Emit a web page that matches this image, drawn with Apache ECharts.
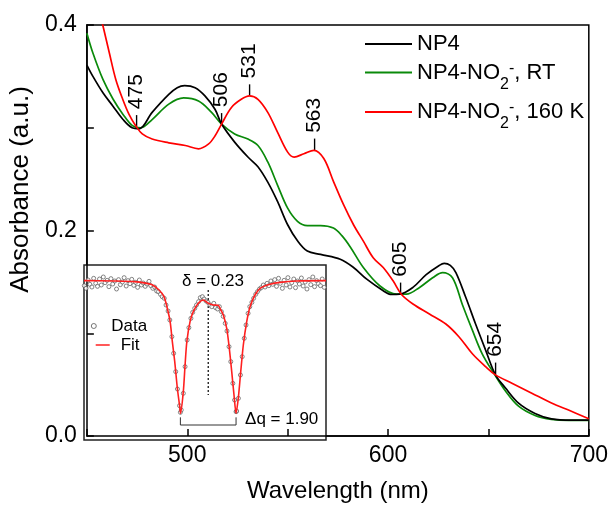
<!DOCTYPE html>
<html><head><meta charset="utf-8">
<script src="https://cdn.jsdelivr.net/npm/echarts@6/dist/echarts.min.js"></script>
<style>html,body{margin:0;padding:0;background:#fff}#c{width:611px;height:508px}</style>
</head><body><div id="c"></div>
<script>
const FONT = '"Liberation Sans", Arial, Helvetica, sans-serif';

// ---- main spectra: [wavelength (nm), absorbance] ----
const np4 = [[450,0.361],[453,0.350],[458,0.334],[463,0.321],[468,0.308],[472.5,0.300],[476,0.299],[482.5,0.315],[490.8,0.3325],[495,0.339],[498.7,0.341],[503.9,0.339],[508.8,0.331],[513.8,0.318],[517.1,0.3036],[523.6,0.286],[530.2,0.2715],[535.2,0.262],[540.1,0.247],[545,0.228],[550,0.2056],[554.9,0.190],[559.8,0.180],[566.4,0.1767],[576.2,0.172],[582.8,0.164],[589.4,0.1526],[597.6,0.1414],[601.7,0.1377],[605.8,0.138],[612.4,0.1446],[619,0.157],[625.5,0.166],[628,0.168],[631,0.166],[633.8,0.159],[638.7,0.135],[643.6,0.109],[648.6,0.0836],[653.5,0.0595],[658.4,0.047],[665,0.032],[673.2,0.022],[681.4,0.0167],[691.3,0.0154],[700,0.0154]];
const np4NO2RT = [[450,0.392],[453,0.3727],[458,0.347],[463,0.328],[468,0.313],[472.7,0.302],[476.8,0.300],[482.5,0.308],[490.8,0.323],[498.2,0.329],[505.6,0.326],[512.1,0.315],[517.1,0.3036],[523.6,0.294],[530.2,0.289],[535.2,0.2827],[540.1,0.2667],[545,0.244],[550,0.2217],[554.9,0.2089],[559.8,0.2048],[566.4,0.2048],[572.8,0.2024],[577,0.195],[581.2,0.184],[587.7,0.164],[596,0.146],[604.2,0.138],[609.1,0.138],[615.7,0.1446],[622.2,0.154],[627.2,0.159],[632.1,0.154],[637,0.128],[642,0.103],[646.9,0.080],[652.7,0.061],[658.4,0.044],[665,0.029],[673.2,0.020],[681.4,0.0162],[690,0.0152],[700,0.0152]];
const np4NO2Cold = [[450,0.47],[454,0.43],[457.9,0.400],[461.2,0.3727],[464.4,0.347],[467.8,0.328],[471,0.313],[474.3,0.302],[477.6,0.294],[482.5,0.289],[490.8,0.2853],[499,0.2827],[505.6,0.2795],[510.5,0.284],[513.8,0.292],[517.1,0.3036],[522,0.3197],[526.9,0.3277],[531,0.331],[535.2,0.3277],[540.1,0.315],[545,0.2955],[550,0.2763],[553.2,0.2715],[558.1,0.2747],[563.1,0.278],[568,0.270],[572.9,0.2474],[577.9,0.2249],[582.8,0.2056],[587.7,0.1896],[592.6,0.1735],[597.6,0.164],[602.5,0.151],[606.6,0.138],[612.4,0.1285],[620.6,0.1188],[628.8,0.109],[635.4,0.0964],[642,0.080],[648.6,0.0675],[653.5,0.0595],[661.7,0.0514],[671.6,0.0417],[681.4,0.0321],[691.3,0.0241],[700,0.0167]];

// ---- annotated wavelengths: [label, wavelength, absorbance] ----
const blackMarks = [['475',474.5,0.301],['506',517,0.303],['605',606,0.138],['654',653.5,0.060]];
const redMarks = [['531',531,0.331],['563',563,0.278]];

// ---- tick labels ----
const xTickLabels = [500, 600, 700];
const yTickLabels = [0.0, 0.2, 0.4];

// ---- series names ----
const names = ['NP4', 'NP4-NO2-, RT', 'NP4-NO2-, 160 K'];
const suffix = {'NP4-NO2-, RT': 'RT', 'NP4-NO2-, 160 K': '160 K'};

// ---- inset Mossbauer spectrum: [velocity (mm/s), transmission (%)] ----
const mossData = [[-4.00,99.88],[-3.94,99.80],[-3.87,100.05],[-3.81,99.92],[-3.74,99.84],[-3.68,100.10],[-3.61,99.95],[-3.55,99.86],[-3.48,100.08],[-3.42,99.90],[-3.35,100.14],[-3.29,99.97],[-3.22,100.04],[-3.16,99.85],[-3.09,100.09],[-3.03,99.93],[-2.96,100.02],[-2.90,99.78],[-2.83,100.06],[-2.77,99.91],[-2.70,99.99],[-2.64,100.12],[-2.57,99.87],[-2.51,100.03],[-2.44,99.94],[-2.38,100.07],[-2.31,99.89],[-2.25,99.98],[-2.18,99.83],[-2.12,100.05],[-2.05,99.90],[-1.99,99.96],[-1.92,99.86],[-1.86,99.93],[-1.79,100.01],[-1.73,99.88],[-1.66,99.80],[-1.60,99.84],[-1.53,99.72],[-1.47,99.70],[-1.40,99.62],[-1.34,99.55],[-1.27,99.50],[-1.21,99.30],[-1.14,99.12],[-1.08,98.85],[-1.01,98.35],[-0.95,97.85],[-0.88,97.30],[-0.82,96.78],[-0.75,96.28],[-0.72,96.08],[-0.69,96.15],[-0.62,96.65],[-0.56,97.45],[-0.49,98.25],[-0.43,98.62],[-0.36,98.90],[-0.30,99.08],[-0.23,99.20],[-0.17,99.30],[-0.10,99.40],[-0.04,99.52],[0.03,99.55],[0.09,99.48],[0.16,99.42],[0.22,99.38],[0.29,99.30],[0.35,99.25],[0.42,99.35],[0.48,99.22],[0.55,99.18],[0.61,99.25],[0.68,99.10],[0.74,98.96],[0.81,98.75],[0.87,98.52],[0.94,98.05],[1.00,97.60],[1.07,96.95],[1.13,96.45],[1.18,96.10],[1.20,96.12],[1.26,96.50],[1.33,97.20],[1.39,97.75],[1.46,98.30],[1.52,98.70],[1.59,99.05],[1.65,99.25],[1.72,99.38],[1.78,99.50],[1.85,99.62],[1.91,99.70],[1.98,99.78],[2.04,99.82],[2.11,99.90],[2.17,99.84],[2.24,99.95],[2.30,99.88],[2.37,100.02],[2.43,99.92],[2.50,100.06],[2.56,99.86],[2.63,100.10],[2.69,99.95],[2.76,99.80],[2.82,100.04],[2.89,99.90],[2.95,100.12],[3.02,99.84],[3.08,99.97],[3.15,100.08],[3.21,99.82],[3.28,100.02],[3.34,99.93],[3.41,100.11],[3.47,99.87],[3.54,99.99],[3.60,99.78],[3.67,100.06],[3.73,99.91],[3.80,100.14],[3.86,99.85],[3.93,100.03],[3.99,99.94],[4.06,99.88],[4.12,100.08],[4.19,99.83]];
const mossFit = [[-4.01,100.03],[-3.0,100.02],[-2.30,100.0],[-1.73,99.92],[-1.45,99.75],[-1.28,99.55],[-1.17,99.21],[-1.07,98.80],[-0.995,98.20],[-0.913,97.60],[-0.825,96.81],[-0.743,96.25],[-0.715,96.05],[-0.62,96.70],[-0.56,97.50],[-0.50,98.20],[-0.39,98.80],[-0.28,99.10],[-0.108,99.35],[0.063,99.45],[0.233,99.35],[0.404,99.30],[0.565,99.29],[0.633,99.20],[0.745,99.00],[0.861,98.60],[0.95,98.00],[1.032,97.30],[1.11,96.60],[1.18,96.05],[1.257,96.51],[1.34,97.30],[1.428,98.10],[1.544,98.80],[1.657,99.25],[1.827,99.60],[2.0,99.80],[2.34,99.92],[2.68,99.98],[3.25,100.02],[4.25,100.03]];
const isomerShift = 0.23;       // delta
const quadSplit = 1.90;          // delta q
const dipVelocities = [-0.72, 1.18];
const deltaLine = [[isomerShift,99.75],[isomerShift,96.6]];
const bracket = [[dipVelocities[0],95.93],[dipVelocities[0],95.70],[dipVelocities[1],95.70],[dipVelocities[1],95.93]];

const chart = echarts.init(document.getElementById('c'));

const txt = {fontFamily: FONT, color: '#000'};
const richLegend = {
  b: {fontSize: 22, lineHeight: 24, fontFamily: FONT, color: '#000'},
  sub: {fontSize: 16, lineHeight: 16, verticalAlign: 'top', padding: [16,0,0,0], fontFamily: FONT, color: '#000'},
  sup: {fontSize: 16, lineHeight: 16, verticalAlign: 'top', padding: [0,0,0,0], fontFamily: FONT, color: '#000'}
};
function legendFmt(name) {
  if (name === 'NP4') return '{b|NP4}';
  return '{b|NP4-NO}{sub|2}{sup|-}{b|, ' + suffix[name] + '}';
}
function mainLegend(name, top) {
  return {data: [name], left: 365, top: top, padding: 0, icon: 'rect', itemWidth: 47, itemHeight: 2,
    selectedMode: false, formatter: legendFmt, textStyle: {fontSize: 22, fontFamily: FONT, color: '#000', rich: richLegend}};
}
const markLabel = {show: true, position: [0,0], rotate: 90, align: 'left', verticalAlign: 'middle',
  fontSize: 21, fontFamily: FONT, color: '#000', formatter: p => '\u2013 ' + p.name};
function marks(list) {
  return {symbol: 'circle', symbolSize: 0, silent: true, label: markLabel,
    data: list.map(m => ({name: m[0], coord: [m[1], m[2]]}))};
}

const option = {
  animation: false,
  backgroundColor: '#fff',
  grid: [
    {left: 84, top: 25, right: 20, bottom: 68, show: true, borderColor: '#000', borderWidth: 1.5, backgroundColor: 'transparent'},
    {left: 84, top: 265, width: 242, bottom: 68, show: true, borderColor: '#222', borderWidth: 1.5, backgroundColor: '#fff'}
  ],
  xAxis: [
    {gridIndex: 0, type: 'value', min: 450, max: 700, interval: 50,
      axisLine: {show: true, lineStyle: {color: '#000', width: 1.5}},
      axisTick: {show: true, inside: true, length: 7, lineStyle: {color: '#000', width: 1.5}},
      axisLabel: {show: true, margin: 8, fontSize: 23, ...txt,
        formatter: v => xTickLabels.indexOf(v) >= 0 ? String(v) : ''},
      splitLine: {show: false},
      name: 'Wavelength (nm)', nameLocation: 'middle', nameGap: 43,
      nameTextStyle: {fontSize: 24, ...txt}},
    {gridIndex: 1, type: 'value', min: -4.01, max: 4.25, show: false}
  ],
  yAxis: [
    {gridIndex: 0, type: 'value', min: 0, max: 0.4, interval: 0.1,
      axisLine: {show: true, lineStyle: {color: '#000', width: 1.5}},
      axisTick: {show: true, inside: true, length: 7, lineStyle: {color: '#000', width: 1.5}},
      axisLabel: {show: true, margin: 10, fontSize: 23, ...txt,
        formatter: v => yTickLabels.some(t => Math.abs(t - v) < 1e-9) ? v.toFixed(1) : ''},
      splitLine: {show: false},
      name: 'Absorbance (a.u.)', nameLocation: 'middle', nameGap: 45,
      nameTextStyle: {fontSize: 26, ...txt, padding: [0,0,0,82]}},
    {gridIndex: 1, type: 'value', min: 95.25, max: 100.5, show: false}
  ],
  legend: [
    mainLegend(names[0], 33),
    mainLegend(names[1], 60.5),
    mainLegend(names[2], 100),
    {data: ['Data'], left: 90.8, top: 316, padding: 0, icon: 'circle', itemWidth: 25, itemHeight: 5,
      selectedMode: false, itemStyle: {color: '#fff', borderColor: '#555', borderWidth: 1},
      textStyle: {fontSize: 17, lineHeight: 20, ...txt}},
    {data: ['Fit'], left: 95.7, top: 335, padding: 0, icon: 'rect', itemWidth: 14, itemHeight: 1.5,
      selectedMode: false, textStyle: {fontSize: 17, lineHeight: 20, ...txt, padding: [0,0,0,6]}}
  ],
  series: [
    {name: names[0], type: 'line', xAxisIndex: 0, yAxisIndex: 0, data: np4, smooth: 0.35, showSymbol: false,
      color: '#000', lineStyle: {color: '#000', width: 1.7}, z: 4, markPoint: marks(blackMarks)},
    {name: names[1], type: 'line', xAxisIndex: 0, yAxisIndex: 0, data: np4NO2RT, smooth: 0.35, showSymbol: false,
      color: '#0a8a0a', lineStyle: {color: '#0a8a0a', width: 1.7}, z: 3},
    {name: names[2], type: 'line', xAxisIndex: 0, yAxisIndex: 0, data: np4NO2Cold, smooth: 0.35, showSymbol: false,
      color: '#ff0000', lineStyle: {color: '#ff0000', width: 1.7}, z: 5, markPoint: marks(redMarks)},
    {name: 'Data', type: 'scatter', xAxisIndex: 1, yAxisIndex: 1, data: mossData, symbol: 'circle', symbolSize: 4,
      itemStyle: {color: '#fff', borderColor: '#555', borderWidth: 0.9}, z: 6},
    {name: 'Fit', type: 'line', xAxisIndex: 1, yAxisIndex: 1, data: mossFit, smooth: 0.25, showSymbol: false,
      color: '#ff2020', lineStyle: {color: '#ff2020', width: 1.6}, z: 7},
    {name: 'delta', type: 'line', xAxisIndex: 1, yAxisIndex: 1, data: deltaLine, showSymbol: false,
      lineStyle: {color: '#000', width: 1.2, type: [2, 2]}, z: 6,
      markPoint: {symbol: 'circle', symbolSize: 0, silent: true,
        label: {show: true, position: [0,0], align: 'center', verticalAlign: 'middle', fontSize: 17, ...txt,
          formatter: () => '\u03b4 = ' + isomerShift.toFixed(2)},
        data: [{coord: [0.39, 100.02]}]}},
    {name: 'bracket', type: 'line', xAxisIndex: 1, yAxisIndex: 1, data: bracket, showSymbol: false,
      lineStyle: {color: '#333', width: 1}, z: 6,
      markPoint: {symbol: 'circle', symbolSize: 0, silent: true,
        label: {show: true, position: [0,0], align: 'left', verticalAlign: 'middle', fontSize: 17, ...txt,
          formatter: () => '\u0394q = ' + quadSplit.toFixed(2)},
        data: [{coord: [1.486, 95.88]}]}}
  ]
};
chart.setOption(option);
</script>
</body></html>
